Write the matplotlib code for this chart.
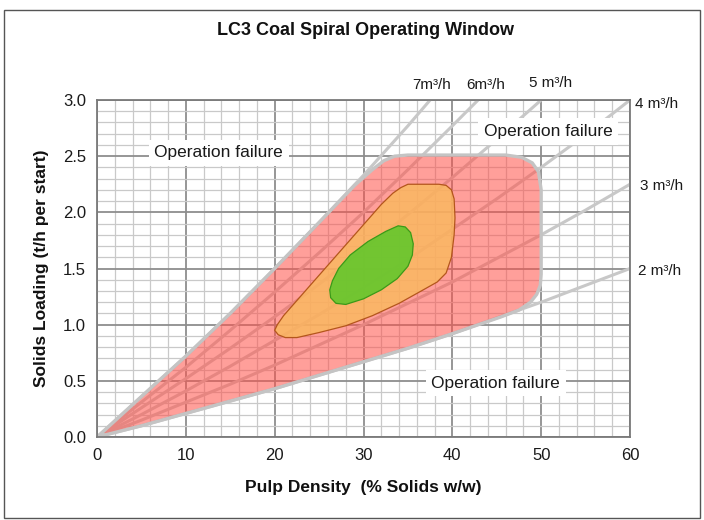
import numpy as np
import matplotlib
matplotlib.use("Agg")
import matplotlib.pyplot as plt
from matplotlib.patches import Polygon, Rectangle

plt.rcParams["font.family"] = ["Liberation Sans", "DejaVu Sans"]

# flow-rate lines
pulp = [0, 5, 10, 15, 20, 25, 30, 35, 40, 45, 50, 55, 60]
q2 = [0, 0.10, 0.21, 0.32, 0.43, 0.55, 0.67, 0.79, 0.92, 1.06, 1.20, 1.35, 1.50]
q3 = [0, 0.15, 0.31, 0.47, 0.64, 0.82, 1.00, 1.19, 1.38, 1.59, 1.80, 2.02, 2.25]
q4 = [0, 0.20, 0.41, 0.63, 0.86, 1.09, 1.33, 1.58, 1.85, 2.12, 2.40, 2.69, 3.00]
q5_x = [0, 5, 10, 15, 20, 25, 30, 35, 40, 45, 50]
q5 = [0, 0.26, 0.52, 0.79, 1.07, 1.36, 1.67, 1.98, 2.31, 2.65, 3.00]
q6_x = [0, 5, 10, 15, 20, 25, 30, 35, 40, 42.9]
q6 = [0, 0.31, 0.62, 0.95, 1.29, 1.64, 2.00, 2.38, 2.77, 3.00]
q7_x = [0, 5, 10, 15, 20, 25, 30, 35, 37.5]
q7 = [0, 0.36, 0.72, 1.10, 1.50, 1.91, 2.33, 2.77, 3.00]

# operating zones
pink_x = [0.3, 5, 10, 15, 20, 25, 29, 31, 32.3, 33.5, 35, 46, 47.8, 49, 49.7, 50, 50,
          49.9, 49.5, 48.8, 47.5, 45.5, 40, 35, 30, 25, 20, 15, 10, 5, 1]
pink_y = [0.02, 0.36, 0.72, 1.10, 1.50, 1.91, 2.24, 2.38, 2.46, 2.50, 2.51, 2.51, 2.49,
          2.44, 2.36, 2.20, 1.45, 1.35, 1.27, 1.20, 1.13, 1.07, 0.92, 0.79, 0.67, 0.55,
          0.43, 0.32, 0.21, 0.10, 0.02]

orange_x = [20.0, 20.4, 21.2, 22.5, 25, 28, 31, 34, 36.5, 38.3, 39.3, 39.9, 40.2, 40.3,
            40.2, 39.9, 39.3, 38.5, 35, 34.2, 33.3, 32, 30, 28, 26, 24, 22, 21, 20.3]
orange_y = [0.95, 0.91, 0.885, 0.885, 0.93, 0.99, 1.08, 1.19, 1.30, 1.38, 1.46, 1.60,
            1.80, 1.95, 2.12, 2.20, 2.24, 2.25, 2.25, 2.22, 2.17, 2.07, 1.89, 1.71,
            1.53, 1.35, 1.17, 1.08, 1.00]

green_x = [26.3, 26.9, 28, 30, 32, 33.8, 35, 35.5, 35.6, 35.3, 34.7, 33.9, 32.5, 30.5,
           28.5, 27.2, 26.5, 26.2]
green_y = [1.24, 1.19, 1.18, 1.23, 1.31, 1.41, 1.52, 1.62, 1.72, 1.82, 1.87, 1.88,
           1.83, 1.74, 1.62, 1.50, 1.39, 1.31]

fig = plt.figure(figsize=(7.04, 5.2), dpi=100)
ax = fig.add_axes([0.1378, 0.1596, 0.7571, 0.6481])

ax.set_xlim(0, 60)
ax.set_ylim(0, 3)
ax.set_xticks(np.arange(0, 61, 10))
ax.set_yticks(np.arange(0, 3.01, 0.5))
ax.set_xticks(np.arange(0, 61, 2), minor=True)
ax.set_yticks(np.arange(0, 3.01, 0.1), minor=True)
ax.set_yticklabels([f"{v:.1f}" for v in np.arange(0, 3.01, 0.5)])
ax.grid(which="minor", color="#c9c9c9", lw=0.9, zorder=0)
ax.grid(which="major", color="#8e8e8e", lw=1.3, zorder=0.5)
ax.set_axisbelow(True)
ax.tick_params(which="both", length=0, labelsize=12, colors="#1a1a1a", pad=8)
for s in ax.spines.values():
    s.set_color("#7a7a7a")
    s.set_linewidth(1.3)

lc = "#c8c8c8"
for xs, ys in [(pulp, q2), (pulp, q3), (pulp, q4), (q5_x, q5), (q6_x, q6), (q7_x, q7)]:
    ax.plot(xs, ys, color=lc, lw=2.2, zorder=1, solid_capstyle="butt")

ax.add_patch(Polygon(np.column_stack([pink_x, pink_y]), closed=True,
                     facecolor="#ff5048", alpha=0.55, edgecolor="none", zorder=2))
ax.add_patch(Polygon(np.column_stack([pink_x, pink_y]), closed=True,
                     facecolor="none", edgecolor="#c4c4c4", lw=2.4, joinstyle="round", zorder=2.1))
ax.add_patch(Polygon(np.column_stack([orange_x, orange_y]), closed=True,
                     facecolor="#fab95f", alpha=0.82, edgecolor="none", zorder=3))
ax.add_patch(Polygon(np.column_stack([orange_x, orange_y]), closed=True,
                     facecolor="none", edgecolor="#b4561c", lw=0.9, joinstyle="round", zorder=3.1))
ax.add_patch(Polygon(np.column_stack([green_x, green_y]), closed=True,
                     facecolor="#5fc82a", alpha=0.88, edgecolor="none", zorder=4))
ax.add_patch(Polygon(np.column_stack([green_x, green_y]), closed=True,
                     facecolor="none", edgecolor="#3a9a18", lw=0.9, joinstyle="round", zorder=4.1))

box = dict(facecolor="white", edgecolor="none", pad=4)
ax.text(13.7, 2.53, "Operation failure", fontsize=12.5, ha="center", va="center",
        color="#1a1a1a", bbox=box, zorder=6)
ax.text(50.8, 2.72, "Operation failure", fontsize=12.5, ha="center", va="center",
        color="#1a1a1a", bbox=box, zorder=6)
ax.text(44.9, 0.48, "Operation failure", fontsize=12.5, ha="center", va="center",
        color="#1a1a1a", bbox=box, zorder=6)

fl = dict(fontsize=11, color="#1a1a1a", clip_on=False, va="center")
ax.text(37.7, 3.13, "7m³/h", ha="center", **fl)
ax.text(43.8, 3.13, "6m³/h", ha="center", **fl)
ax.text(51.1, 3.15, "5 m³/h", ha="center", **fl)
ax.text(60.6, 2.96, "4 m³/h", ha="left", **fl)
ax.text(61.1, 2.23, "3 m³/h", ha="left", **fl)
ax.text(60.9, 1.48, "2 m³/h", ha="left", **fl)

ax.set_xlabel("Pulp Density  (% Solids w/w)", fontsize=12.5, fontweight="bold",
              color="#111111", labelpad=12)
ax.set_ylabel("Solids Loading (t/h per start)", fontsize=12.5, fontweight="bold",
              color="#111111", labelpad=10)
fig.text(0.519, 0.942, "LC3 Coal Spiral Operating Window", fontsize=13, fontweight="bold",
         ha="center", va="center", color="#111111")

fig.patches.append(Rectangle((0.005, 0.004), 0.99, 0.977, transform=fig.transFigure,
                             facecolor="none", edgecolor="#555555", lw=1.0))

fig.savefig("out.png", dpi=100)
